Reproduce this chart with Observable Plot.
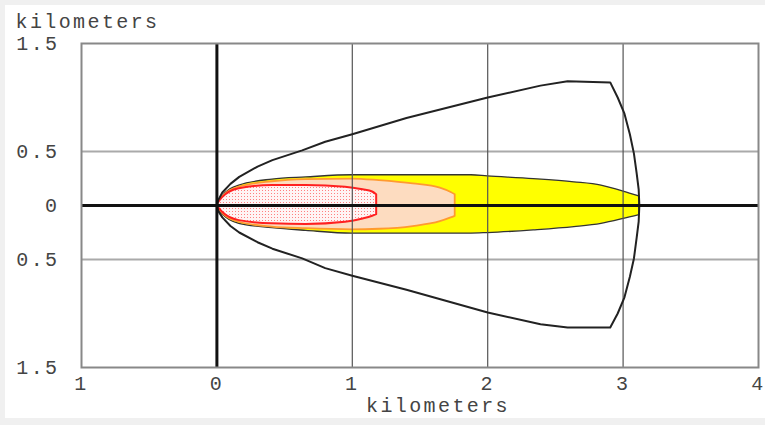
<!DOCTYPE html>
<html>
<head>
<meta charset="utf-8">
<script src="https://cdn.jsdelivr.net/npm/d3@7"></script>
<script src="https://cdn.jsdelivr.net/npm/@observablehq/plot@0.6"></script>
<style>
  html, body { margin: 0; padding: 0; background: #f0f0f0; }
  #panel { position: absolute; left: 5px; top: 5px; width: 760px; height: 413px; background: #ffffff; }
  #chart { position: absolute; left: 0; top: 0; }
</style>
</head>
<body>
<div id="panel"></div>
<div id="chart"></div>
<script>
// Tick positions and labels
const xTicks = [-1, 0, 1, 2, 3, 4];
const xTickLabels = ["1", "0", "1", "2", "3", "4"];
const yTicks = [1.5, 0.5, 0, -0.5, -1.5];
const yTickLabels = ["1.5", "0.5", "0", "0.5", "1.5"];
const xGrid = [1, 2, 3];
const yGrid = [0.5, -0.5];
const axisTitle = "kilometers";

// Outer confidence line (closed contour: top edge out, arc, bottom edge back)
const outerX = [0, 0.01, 0.04, 0.10, 0.165, 0.30, 0.41, 0.63, 0.80, 1.0, 1.40, 2.0, 2.39, 2.59, 2.905,
  2.96, 3.01, 3.05, 3.08, 3.10, 3.115, 3.12, 3.115, 3.10, 3.08, 3.05, 3.01, 2.96, 2.905,
  2.59, 2.39, 2.0, 1.40, 1.0, 0.80, 0.63, 0.41, 0.30, 0.165, 0.10, 0.04, 0.01, 0];
const outerY = [0, 0.05, 0.12, 0.20, 0.265, 0.36, 0.42, 0.51, 0.59, 0.66, 0.81, 1.0, 1.11, 1.15, 1.14,
  1.0, 0.85, 0.66, 0.48, 0.30, 0.15, 0, -0.15, -0.30, -0.49, -0.66, -0.85, -1.0, -1.13,
  -1.13, -1.10, -0.99, -0.78, -0.65, -0.58, -0.49, -0.40, -0.34, -0.25, -0.19, -0.11, -0.05, 0];

// Yellow zone
const yellowX = [0, 0.04, 0.165, 0.41, 0.66, 1.0, 1.88, 2.0, 2.34, 2.64, 2.84, 3.05, 3.12];
const yellowTop = [0, 0.08, 0.185, 0.24, 0.26, 0.28, 0.28, 0.27, 0.245, 0.215, 0.185, 0.11, 0.083];
const yellowBottom = [0, -0.08, -0.17, -0.21, -0.235, -0.26, -0.26, -0.255, -0.23, -0.20, -0.17, -0.11, -0.09];

// Orange zone
const orangeX = [0, 0.04, 0.165, 0.41, 0.66, 1.0, 1.2, 1.45, 1.65, 1.73, 1.76];
const orangeTop = [0, 0.075, 0.17, 0.22, 0.24, 0.245, 0.23, 0.20, 0.16, 0.12, 0.10];
const orangeBottom = [0, -0.07, -0.155, -0.20, -0.215, -0.225, -0.22, -0.195, -0.15, -0.115, -0.10];

// Red zone
const redX = [0, 0.04, 0.165, 0.41, 0.66, 0.95, 1.08, 1.15, 1.18];
const redTop = [0, 0.07, 0.155, 0.185, 0.185, 0.17, 0.145, 0.125, 0.10];
const redBottom = [0, -0.06, -0.14, -0.17, -0.175, -0.155, -0.125, -0.10, -0.085];

const outer = outerX.map((x, i) => ({x, y: outerY[i]}));
const yellow = yellowX.map((x, i) => ({x, y1: yellowBottom[i], y2: yellowTop[i]}));
const orange = orangeX.map((x, i) => ({x, y1: orangeBottom[i], y2: orangeTop[i]}));
const red = redX.map((x, i) => ({x, y1: redBottom[i], y2: redTop[i]}));

const chart = Plot.plot({
  width: 765,
  height: 425,
  marginLeft: 81,
  marginRight: 7,
  marginTop: 43,
  marginBottom: 58,
  x: {domain: [-1, 4]},
  y: {domain: [-1.5, 1.5]},
  style: {
    fontFamily: "'Liberation Mono', 'Courier New', monospace",
    fontSize: "20px",
    letterSpacing: "2.4px",
    color: "#444",
    background: "transparent"
  },
  marks: [
    Plot.areaY(yellow, {x: "x", y1: "y1", y2: "y2", fill: "#ffff00", stroke: "#333", strokeWidth: 1.3, curve: "monotone-x"}),
    Plot.areaY(orange, {x: "x", y1: "y1", y2: "y2", fill: "#fddcc0", stroke: "#ff9a30", strokeWidth: 1.8, curve: "monotone-x"}),
    Plot.areaY(red, {x: "x", y1: "y1", y2: "y2", fill: "url(#dots)", stroke: "#ff2020", strokeWidth: 2, curve: "monotone-x"}),
    Plot.ruleY(yGrid, {stroke: "#aaa", strokeWidth: 2}),
    Plot.ruleX(xGrid, {stroke: "#555", strokeWidth: 1.2}),
    Plot.line(outer, {x: "x", y: "y", stroke: "#222", strokeWidth: 2, curve: "linear"}),
    Plot.ruleY([0], {stroke: "#111", strokeWidth: 3}),
    Plot.ruleX([0], {stroke: "#111", strokeWidth: 3}),
    Plot.frame({stroke: "#888", strokeWidth: 2}),
    Plot.axisX(xTicks, {tickSize: 0, tickPadding: 8, tickFormat: d => xTickLabels[xTicks.indexOf(d)], label: null}),
    Plot.axisY(yTicks, {tickSize: 0, tickPadding: 22, tickFormat: d => yTickLabels[yTicks.indexOf(d)], label: null}),
    Plot.text([axisTitle], {frameAnchor: "top-left", textAnchor: "start", lineAnchor: "bottom", dx: -66, dy: -16}),
    Plot.text([axisTitle], {frameAnchor: "bottom", textAnchor: "middle", lineAnchor: "middle", dx: 18, dy: 38})
  ]
});

d3.select(chart).insert("defs", ":first-child").html(
  '<pattern id="dots" width="3" height="3" patternUnits="userSpaceOnUse">' +
  '<rect width="3" height="3" fill="#fff4f4"></rect>' +
  '<rect x="1" y="1" width="1" height="1" fill="#ff8080"></rect>' +
  '</pattern>'
);

document.getElementById("chart").appendChild(chart);
</script>
</body>
</html>
